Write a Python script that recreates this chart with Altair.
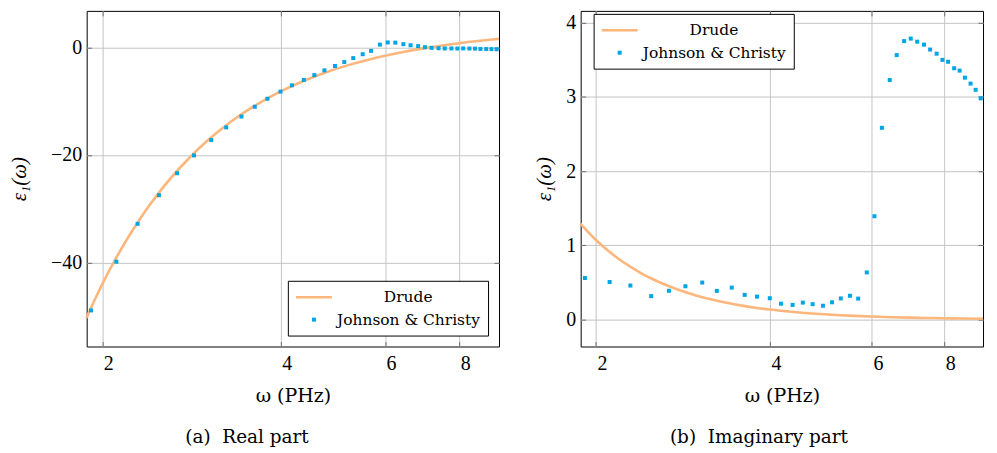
import altair as alt
import pandas as pd

# ---- data ----
series_names = ["Drude", "Johnson & Christy"]
series_colors = ["#fdb67c", "#00a5e3"]

omega_jc = [1.914, 2.112, 2.294, 2.492, 2.674, 2.856, 3.054, 3.236, 3.434, 3.616,
            3.798, 3.996, 4.178, 4.376, 4.558, 4.740, 4.938, 5.120, 5.302, 5.500,
            5.682, 5.880, 6.062, 6.244, 6.442, 6.624, 6.822, 7.004, 7.187, 7.384,
            7.566, 7.764, 7.946, 8.128, 8.326, 8.508, 8.690, 8.888, 9.070, 9.253]
eps_real_jc = [-48.89, -39.84, -32.80, -27.48, -23.40, -20.09, -17.24, -14.88, -12.86, -11.05,
               -9.56, -8.23, -7.06, -6.06, -5.17, -4.28, -3.47, -2.74, -2.00, -1.28,
               -0.66, 0.50, 0.90, 0.87, 0.58, 0.39, 0.22, 0.02, -0.10, -0.17,
               -0.21, -0.21, -0.23, -0.20, -0.22, -0.24, -0.30, -0.32, -0.33, -0.36]
eps_imag_jc = [0.559, 0.505, 0.458, 0.315, 0.387, 0.448, 0.498, 0.386, 0.430, 0.332,
               0.309, 0.287, 0.213, 0.197, 0.228, 0.207, 0.186, 0.232, 0.284, 0.320,
               0.282, 0.635, 1.392, 2.584, 3.228, 3.564, 3.753, 3.787, 3.745, 3.705,
               3.639, 3.583, 3.500, 3.474, 3.387, 3.355, 3.260, 3.180, 3.096, 2.981]

omega_drude = [1.88, 1.95, 2.0, 2.1, 2.2, 2.3, 2.4, 2.5, 2.6, 2.8, 3.0, 3.2, 3.4, 3.6,
               3.8, 4.0, 4.4, 4.8, 5.2, 5.6, 6.0, 6.5, 7.0, 7.5, 8.0, 8.6, 9.34]
eps_real_drude = [-50.29, -46.48, -44.00, -39.56, -35.71, -32.36, -29.41, -26.81, -24.50,
                  -20.61, -17.47, -14.90, -12.77, -10.99, -9.48, -8.19, -6.12, -4.54,
                  -3.31, -2.34, -1.56, -0.77, -0.15, 0.35, 0.77, 1.17, 1.56]
eps_imag_drude = [1.291, 1.157, 1.072, 0.926, 0.805, 0.705, 0.620, 0.549, 0.488,
                  0.391, 0.318, 0.262, 0.218, 0.184, 0.156, 0.134, 0.101, 0.0775,
                  0.0610, 0.0488, 0.0397, 0.0312, 0.0250, 0.0203, 0.0168, 0.0135, 0.0105]

x_ticks = [2, 4, 6, 8]
real_ticks = [-40, -20, 0]
imag_ticks = [0, 1, 2, 3, 4]

jc = pd.DataFrame({"omega": omega_jc, "re": eps_real_jc, "im": eps_imag_jc,
                   "series": series_names[1]})
drude = pd.DataFrame({"omega": omega_drude, "re": eps_real_drude, "im": eps_imag_drude,
                      "series": series_names[0]})

LINE_SYM = "M-2.4,0H2.4"
SQUARE = "M-0.267,-0.267H0.267V0.267H-0.267Z"
TICK_FONT = "Liberation Serif"
TEXT_FONT = "DejaVu Serif"
TICK_COLOR = "#6e6e6e"


def panel(col, ydomain, yticks, legend_pos, caption, cap_dx, title_pad, width):
    xscale = alt.Scale(type="log", domain=[1.882, 9.34], nice=False, zero=False)
    yscale = alt.Scale(domain=ydomain, nice=False, zero=False)
    # main axes (labels, grid, inner ticks at bottom / left)
    x_main = alt.X("omega:Q", scale=xscale,
                   axis=alt.Axis(orient="bottom", values=x_ticks, title="ω (PHz)",
                                 labelOffset=6, labelPadding=7, titlePadding=13,
                                 titleFont=TEXT_FONT, titleFontSize=19,
                                 offset=-5, ticks=True, tickSize=5,
                                 tickColor=TICK_COLOR, tickWidth=1))
    y_main = alt.Y(f"{col}:Q", scale=yscale,
                   axis=alt.Axis(orient="left", values=yticks, title="ε₁(ω)",
                                 labelPadding=5, titlePadding=title_pad,
                                 titleFont=TICK_FONT, titleFontSize=21,
                                 titleFontStyle="italic",
                                 offset=-5, ticks=True, tickSize=5,
                                 tickColor=TICK_COLOR, tickWidth=1))
    # mirror axes: inner ticks only, at top / right
    x_top = alt.X("omega:Q", scale=xscale,
                  axis=alt.Axis(orient="top", values=x_ticks, title=None, labels=False,
                                grid=False, domain=False, offset=-5, ticks=True,
                                tickSize=5, tickColor=TICK_COLOR, tickWidth=1))
    y_right = alt.Y(f"{col}:Q", scale=yscale,
                    axis=alt.Axis(orient="right", values=yticks, title=None, labels=False,
                                  grid=False, domain=False, offset=-5, ticks=True,
                                  tickSize=5, tickColor=TICK_COLOR, tickWidth=1))
    leg = dict(title=None, strokeColor="black", fillColor="white", padding=7.5,
               cornerRadius=0, labelFont=TEXT_FONT, labelFontSize=15.5,
               labelColor="black", symbolSize=225, symbolStrokeWidth=2.6,
               symbolOffset=9.7, rowPadding=4.5, symbolOpacity=1,
               labelOffset={"expr": "datum.label == 'Drude' ? 61.2 : 14.2"},
               **legend_pos)
    line = alt.Chart(drude).mark_line(color=series_colors[0], strokeWidth=2.6,
                                      interpolate="monotone").encode(x=x_main, y=y_main)
    pts = alt.Chart(jc).mark_point(filled=True, size=225, opacity=1, strokeWidth=2.6).encode(
        x=x_top, y=y_right,
        fill=alt.Fill("series:N", scale=alt.Scale(domain=series_names, range=series_colors),
                      legend=alt.Legend(**leg)),
        stroke=alt.Stroke("series:N",
                          scale=alt.Scale(domain=series_names,
                                          range=[series_colors[0], "transparent"]),
                          legend=alt.Legend(**leg)),
        shape=alt.Shape("series:N",
                        scale=alt.Scale(domain=series_names, range=[LINE_SYM, SQUARE]),
                        legend=alt.Legend(**leg)),
    )
    return alt.layer(line, pts).resolve_axis(x="independent", y="independent").properties(
        width=width, height=337,
        title=alt.TitleParams(text=caption, orient="bottom", anchor="middle",
                              font=TEXT_FONT, fontSize=18.5, fontWeight="normal",
                              color="black", offset=23, dx=cap_dx))


left = panel("re", [-55.6, 6.77], real_ticks,
             dict(orient="bottom-right", offset=11),
             "(a)\u00a0 Real part", -46, 21, 414)
right = panel("im", [-0.364, 4.16], imag_ticks,
              dict(orient="none", legendX=13, legendY=3),
              "(b)\u00a0 Imaginary part", -23, 11, 404)

chart = alt.hconcat(left, right, spacing=82, bounds="flush").properties(
    padding={"left": 0, "top": 1, "right": 0, "bottom": 0}
).configure_view(stroke="black", strokeWidth=1).configure_axis(
    grid=True, gridColor="#c4c4c4", gridWidth=1, domain=False, ticks=False,
    labelFont=TICK_FONT, labelFontSize=20, labelColor="black",
    titleColor="black", titleFontWeight="normal"
)

chart.save("out.html", embed_options={"renderer": "svg", "actions": False})
